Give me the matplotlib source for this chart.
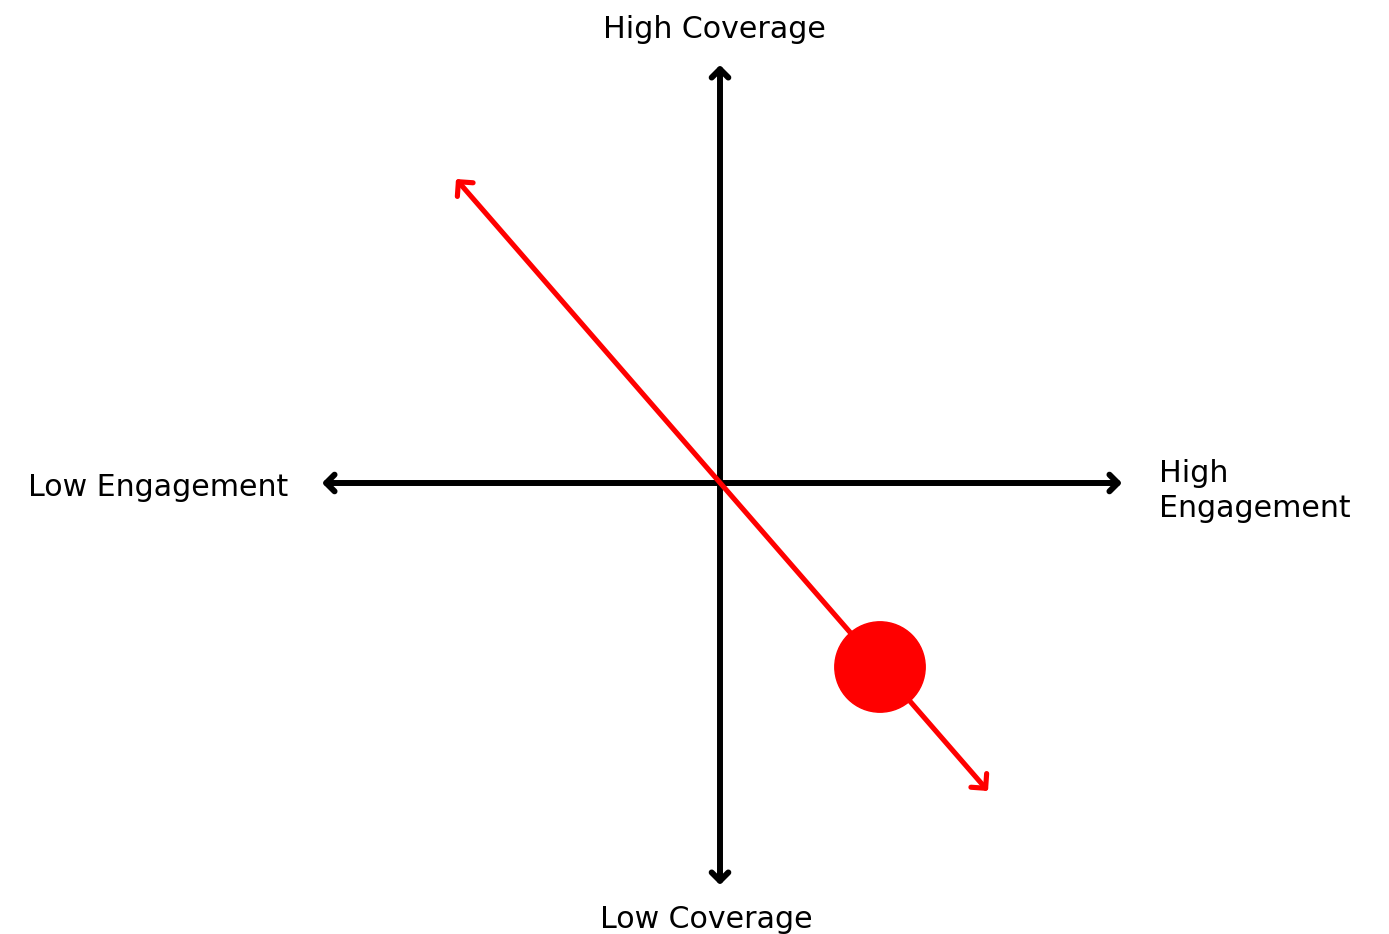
import matplotlib.pyplot as plt
from matplotlib.patches import Circle

plt.rcParams['font.family'] = ['DejaVu Sans']

# Axis extents (conceptual units, centre at 0, 0)
engagement_range = [-0.995, 1.005]
coverage_range = [-1.005, 1.045]

# Trend line ends and the marker position
trend_start = [-0.66, 0.76]
trend_end = [0.67, -0.77]
marker_pos = [0.40, -0.46]
marker_radius = 0.113

labels = {
    "top": "High Coverage",
    "bottom": "Low Coverage",
    "left": "Low Engagement",
    "right": "High\nEngagement",
}

fig = plt.figure(figsize=(13.89, 9.34), dpi=100)
ax = fig.add_axes([0, 0, 1, 1])
ax.set_xlim(-1.8, 1.6725)
ax.set_ylim(-1.1275, 1.2075)
ax.axis("off")

# Black axes with open heads at both ends
black_style = dict(arrowstyle="<->,head_length=0.6,head_width=0.6", lw=4.3,
                   color="black", shrinkA=0, shrinkB=0)
ax.annotate("", xy=(engagement_range[1], 0), xytext=(engagement_range[0], 0),
            arrowprops=black_style, annotation_clip=False)
ax.annotate("", xy=(0, coverage_range[1]), xytext=(0, coverage_range[0]),
            arrowprops=black_style, annotation_clip=False)

# Red trend line
red_style = dict(arrowstyle="<->,head_length=0.75,head_width=0.75", lw=3.7,
                 color="#ff0000", shrinkA=0, shrinkB=0)
ax.annotate("", xy=tuple(trend_end), xytext=tuple(trend_start),
            arrowprops=red_style, annotation_clip=False)

ax.add_patch(Circle(tuple(marker_pos), marker_radius, color="#ff0000", zorder=5))

fs = 21.6
ax.text(-0.015, 1.135, labels["top"], ha="center", va="center", fontsize=fs)
ax.text(-0.035, -1.09, labels["bottom"], ha="center", va="center", fontsize=fs)
ax.text(-1.08, -0.01, labels["left"], ha="right", va="center", fontsize=fs)
ax.text(1.098, -0.02, labels["right"], ha="left", va="center", fontsize=fs,
        linespacing=1.27)

fig.savefig("out.png", dpi=100)
